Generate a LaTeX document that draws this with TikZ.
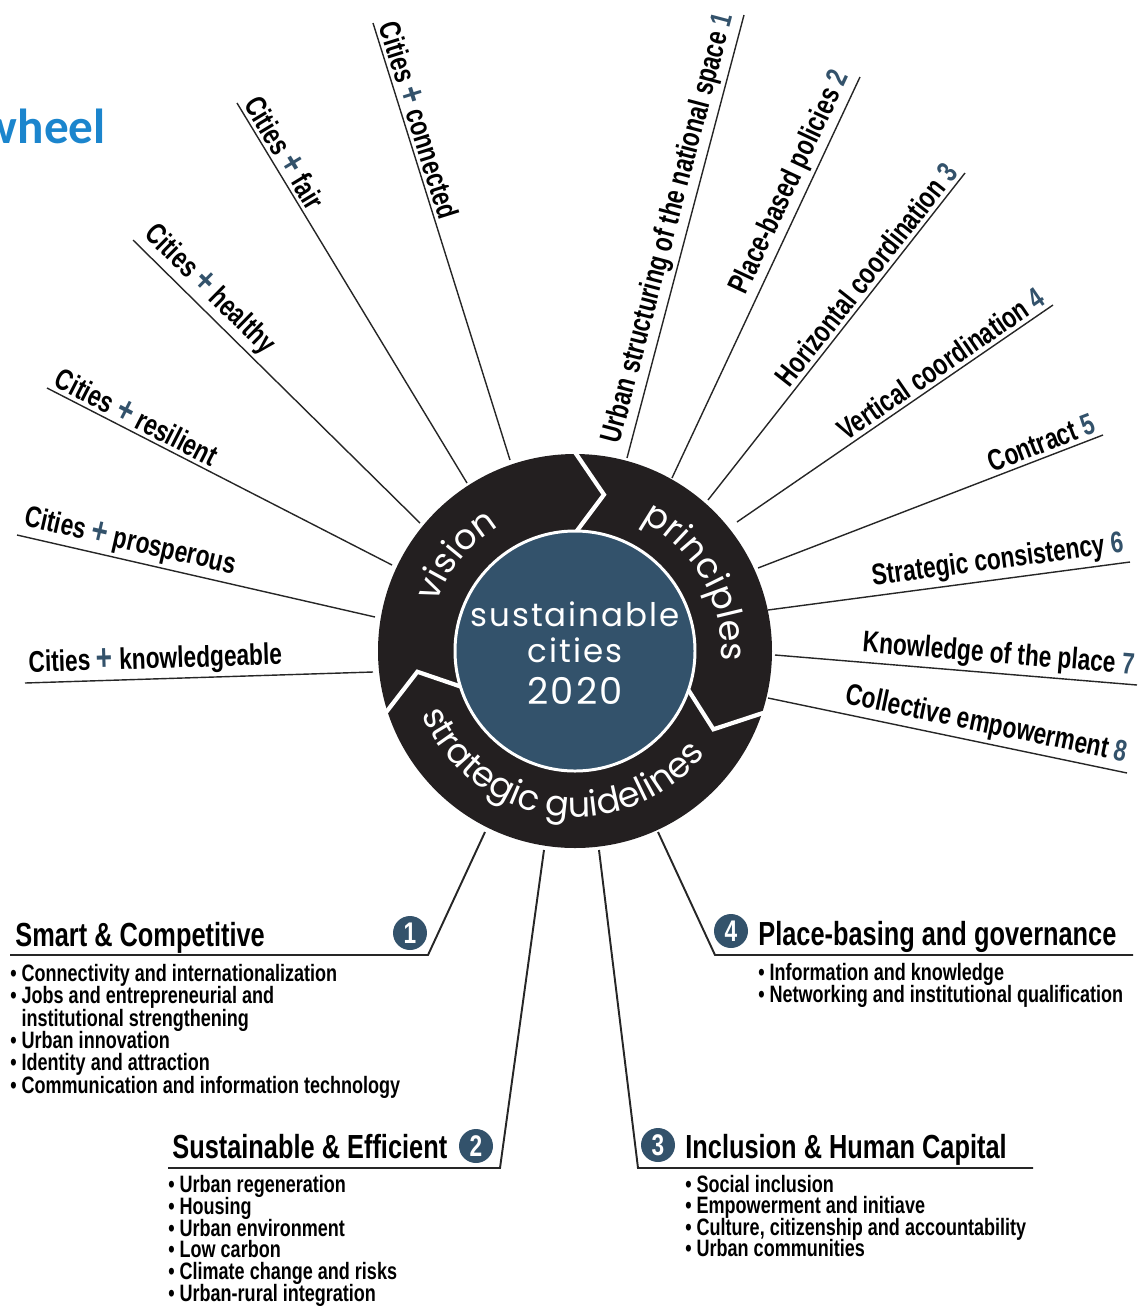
\documentclass[tikz,border=0pt]{standalone}
\usepackage{fontspec}
\setmainfont{Liberation Sans}
\newfontfamily\condfont[FakeStretch=0.76]{Liberation Sans}
\newfontfamily\ringfont{Poppins}
\newfontfamily\hubfont[LetterSpace=6]{Poppins}
\newfontfamily\headfont{Carlito}
\usetikzlibrary{calc,decorations.text}

\definecolor{wblue}{RGB}{51,82,107}
\definecolor{ringblack}{RGB}{35,31,32}
\definecolor{headblue}{RGB}{27,133,205}

\newcommand\cplus{\textcolor{wblue}{\fontsize{21}{17}\selectfont+}}
\newcommand\pnum[1]{\textcolor{wblue}{#1}}
\newcommand\ringtext{\ringfont\fontsize{20}{20}\selectfont\color{white}}
\newcommand\itemfont[1][12.7]{\condfont\bfseries\fontsize{13.5}{#1}\selectfont\lineskiplimit=-6pt\relax}

\begin{document}
\begin{tikzpicture}[x=0.02cm, y=-0.02cm,
    spoke/.style={draw=black!85, line width=0.8pt},
    guide/.style={draw=black!85, line width=1.1pt},
    lab/.style={font=\condfont\bfseries\fontsize{17}{17}\selectfont, inner sep=2pt, sloped},
    gap/.style={draw=white, line width=2.4pt},
    badge/.style={circle, fill=wblue, text=white, minimum size=0.68cm, inner sep=0pt,
        font=\condfont\bfseries\fontsize{17}{17}\selectfont},
    head/.style={font=\condfont\bfseries\fontsize{19}{19}\selectfont, inner sep=0pt, anchor=base west},
    items/.style={font=\itemfont, align=left, inner sep=0pt, anchor=north west},
    hub/.style={text=white, inner sep=0pt, anchor=base}]

    \useasboundingbox (0,0) rectangle (1140,1306);

    \node[font=\headfont\bfseries\fontsize{28}{28}\selectfont, text=headblue, anchor=base east,
        inner sep=0pt] (title) at (106,143) {wheel};

    % the wheel
    \coordinate (C) at (575,651);
    \fill[ringblack] (C) circle (197);
    \draw[gap] ($(C)+(-91:204)$) -- ($(C)+(-79.5:159)$) -- ($(C)+(-91:115)$);
    \draw[gap] ($(C)+(17:204)$) -- ($(C)+(29.5:159)$) -- ($(C)+(17:115)$);
    \draw[gap] ($(C)+(-199:204)$) -- ($(C)+(-187.5:159)$) -- ($(C)+(-199:115)$);
    \filldraw[fill=wblue, draw=white, line width=1.7pt] (C) circle (120);
    \node[hub, font=\hubfont\fontsize{18.5}{20}\selectfont] (hub1) at (575,626) {sustainable};
    \node[hub, font=\hubfont\fontsize{18.5}{20}\selectfont] (hub2) at (575,662) {cities};
    \node[hub, font=\hubfont\fontsize{21}{22}\selectfont] (hub3) at (575,704) {2020};

    \path[decorate, decoration={text along path, text align=center, text={|\ringtext|vision}}]
        ($(C)+(-200:146)$) arc[start angle=-200, end angle=-82, radius=146];
    \path[decorate, decoration={text along path, text align=center, text={|\ringtext|principles}}]
        ($(C)+(-89.5:146)$) arc[start angle=-89.5, end angle=30.5, radius=146];
    \path[decorate, decoration={text along path, text align=center, text={|\ringtext|strategic guidelines}}]
        ($(C)+(-202:166)$) arc[start angle=-202, end angle=-322, radius=166];

    % vision spokes
    \coordinate (v1o) at (373,23);   \coordinate (v1i) at (510,460);
    \coordinate (v2o) at (237,103);  \coordinate (v2i) at (467,483);
    \coordinate (v3o) at (133,240);  \coordinate (v3i) at (420,523);
    \coordinate (v4o) at (47,388);   \coordinate (v4i) at (392,565);
    \coordinate (v5o) at (17,535);   \coordinate (v5i) at (375,617);
    \coordinate (v6o) at (25,683);   \coordinate (v6i) at (373,672);

    \draw[spoke] (v1o) -- (v1i) node[lab, pos=0, anchor=south west] (cconn) {Cities \cplus{} connected};
    \draw[spoke] (v2o) -- (v2i) node[lab, pos=0, anchor=south west] (cfair) {Cities \cplus{} fair};
    \draw[spoke] (v3o) -- (v3i) node[lab, pos=0, anchor=south west] (cheal) {Cities \cplus{} healthy};
    \draw[spoke] (v4o) -- (v4i) node[lab, pos=0, anchor=south west] (cresi) {Cities \cplus{} resilient};
    \draw[spoke] (v5o) -- (v5i) node[lab, pos=0, anchor=south west] (cpros) {Cities \cplus{} prosperous};
    \draw[spoke] (v6o) -- (v6i) node[lab, pos=0, anchor=south west] (cknow) {Cities \cplus{} knowledgeable};

    % principle spokes
    \coordinate (p1i) at (627,458);  \coordinate (p1o) at (744,15);
    \coordinate (p2i) at (672,478);  \coordinate (p2o) at (860,77);
    \coordinate (p3i) at (708,500);  \coordinate (p3o) at (965,173);
    \coordinate (p4i) at (737,522);  \coordinate (p4o) at (1053,305);
    \coordinate (p5i) at (758,568);  \coordinate (p5o) at (1103,435);
    \coordinate (p6i) at (768,610);  \coordinate (p6o) at (1130,562);
    \coordinate (p7i) at (775,655);  \coordinate (p7o) at (1137,685);
    \coordinate (p8i) at (768,698);  \coordinate (p8o) at (1127,773);

    \draw[spoke] (p1i) -- (p1o) node[lab, pos=1, anchor=south east] (purban) {Urban structuring of the national space \pnum{1}};
    \draw[spoke] (p2i) -- (p2o) node[lab, pos=1, anchor=south east] (pplace) {Place-based policies \pnum{2}};
    \draw[spoke] (p3i) -- (p3o) node[lab, pos=1, anchor=south east] (phori) {Horizontal coordination \pnum{3}};
    \draw[spoke] (p4i) -- (p4o) node[lab, pos=1, anchor=south east] (pvert) {Vertical coordination \pnum{4}};
    \draw[spoke] (p5i) -- (p5o) node[lab, pos=1, anchor=south east] (pcont) {Contract \pnum{5}};
    \draw[spoke] (p6i) -- (p6o) node[lab, pos=1, anchor=south east] (pcons) {Strategic consistency \pnum{6}};
    \draw[spoke] (p7i) -- (p7o) node[lab, pos=1, anchor=south east] (pknow) {Knowledge of the place \pnum{7}};
    \draw[spoke] (p8i) -- (p8o) node[lab, pos=1, anchor=south east] (pcoll) {Collective empowerment \pnum{8}};

    % strategic guidelines
    \coordinate (g1i) at (485,832);  \coordinate (g1k) at (428,955);  \coordinate (g1e) at (10,955);
    \coordinate (g2i) at (544,850);  \coordinate (g2k) at (500,1168); \coordinate (g2e) at (168,1168);
    \coordinate (g3i) at (599,850);  \coordinate (g3k) at (638,1168); \coordinate (g3e) at (1033,1168);
    \coordinate (g4i) at (658,832);  \coordinate (g4k) at (715,955);  \coordinate (g4e) at (1133,955);
    \draw[guide] (g1i) -- (g1k) -- (g1e);
    \draw[guide] (g2i) -- (g2k) -- (g2e);
    \draw[guide] (g3i) -- (g3k) -- (g3e);
    \draw[guide] (g4i) -- (g4k) -- (g4e);

    \node[badge] (b1) at (410,933) {1};
    \node[badge] (b2) at (476,1146) {2};
    \node[badge] (b3) at (658,1145) {3};
    \node[badge] (b4) at (731,931) {4};

    \node[head] (smart) at (15,946) {Smart \& Competitive};
    \node[head] (sust) at (172,1158) {Sustainable \& Efficient};
    \node[head] (incl) at (685,1158) {Inclusion \& Human Capital};
    \node[head] (gov) at (758,945) {Place-basing and governance};

    \node[items] (smartlist) at (10,964) {\textbullet\ Connectivity and internationalization\\
        \textbullet\ Jobs and entrepreneurial and\\
        \phantom{\textbullet\ }institutional strengthening\\
        \textbullet\ Urban innovation\\
        \textbullet\ Identity and attraction\\
        \textbullet\ Communication and information technology};
    \node[items, font={\itemfont[12.4]}] (sustlist) at (168,1175) {\textbullet\ Urban regeneration\\
        \textbullet\ Housing\\
        \textbullet\ Urban environment\\
        \textbullet\ Low carbon\\
        \textbullet\ Climate change and risks\\
        \textbullet\ Urban-rural integration};
    \node[items, font={\itemfont[12.2]}] (incllist) at (685,1175) {\textbullet\ Social inclusion\\
        \textbullet\ Empowerment and initiave\\
        \textbullet\ Culture, citizenship and accountability\\
        \textbullet\ Urban communities};
    \node[items] (govlist) at (758,963) {\textbullet\ Information and knowledge\\
        \textbullet\ Networking and institutional qualification};
\end{tikzpicture}
\end{document}
